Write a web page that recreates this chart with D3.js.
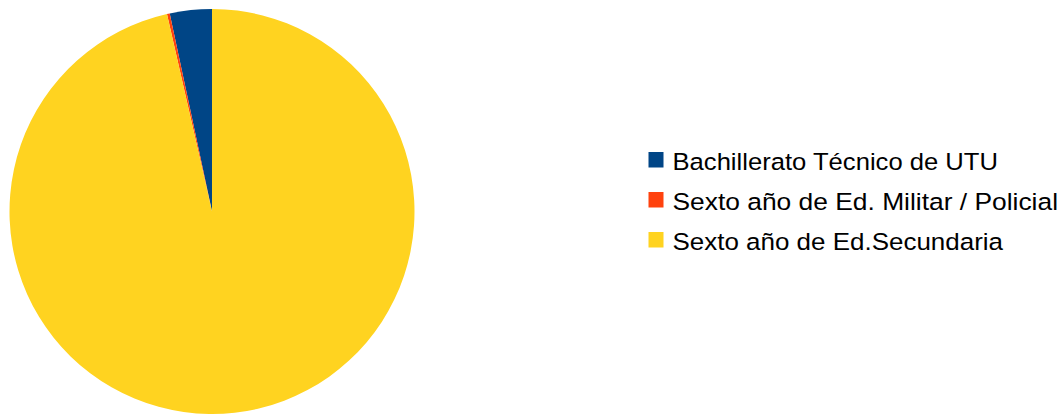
<!DOCTYPE html>
<html>
<head>
<meta charset="utf-8">
<script src="https://cdn.jsdelivr.net/npm/d3@7"></script>
<style>
  body { margin: 0; background: #fff; }
  svg { display: block; }
  text { font-family: "Liberation Sans", Arial, sans-serif; }
</style>
</head>
<body>
<script>
// categories and share of each (percent)
var categories = ["Bachillerato Técnico de UTU", "Sexto año de Ed. Militar / Policial", "Sexto año de Ed.Secundaria"];
var values = [3.35, 0.22, 96.43];
var colors = ["#004586", "#ff420e", "#ffd320"];
// rendered widths of the legend labels in the reference
var labelWidths = [325.5, 385.5, 330.5];

var width = 1061, height = 414;
var cx = 212, cy = 211.5, radius = 202.5;

var svg = d3.select("body").append("svg")
    .attr("width", width)
    .attr("height", height);

var data = categories.map(function(c, i) {
  return { name: c, value: values[i], color: colors[i], w: labelWidths[i] };
});

// slices run counter-clockwise from 12 o'clock
var pie = d3.pie()
    .sort(null)
    .value(function(d) { return d.value; })
    .startAngle(0)
    .endAngle(-2 * Math.PI);

var arc = d3.arc().innerRadius(0).outerRadius(radius);

svg.append("g")
    .attr("transform", "translate(" + cx + "," + cy + ")")
  .selectAll("path")
  .data(pie(data))
  .enter().append("path")
    .attr("d", arc)
    .attr("fill", function(d) { return d.data.color; });

// legend
var legend = svg.append("g")
    .attr("transform", "translate(648.5,152)");

var item = legend.selectAll("g")
  .data(data)
  .enter().append("g")
    .attr("transform", function(d, i) { return "translate(0," + (i * 40) + ")"; });

item.append("rect")
    .attr("width", 15)
    .attr("height", 15.5)
    .attr("fill", function(d) { return d.color; });

item.append("text")
    .attr("x", 24)
    .attr("y", 17.5)
    .attr("font-size", 24.5)
    .attr("fill", "#000")
    .attr("textLength", function(d) { return d.w; })
    .attr("lengthAdjust", "spacingAndGlyphs")
    .text(function(d) { return d.name; });
</script>
</body>
</html>
